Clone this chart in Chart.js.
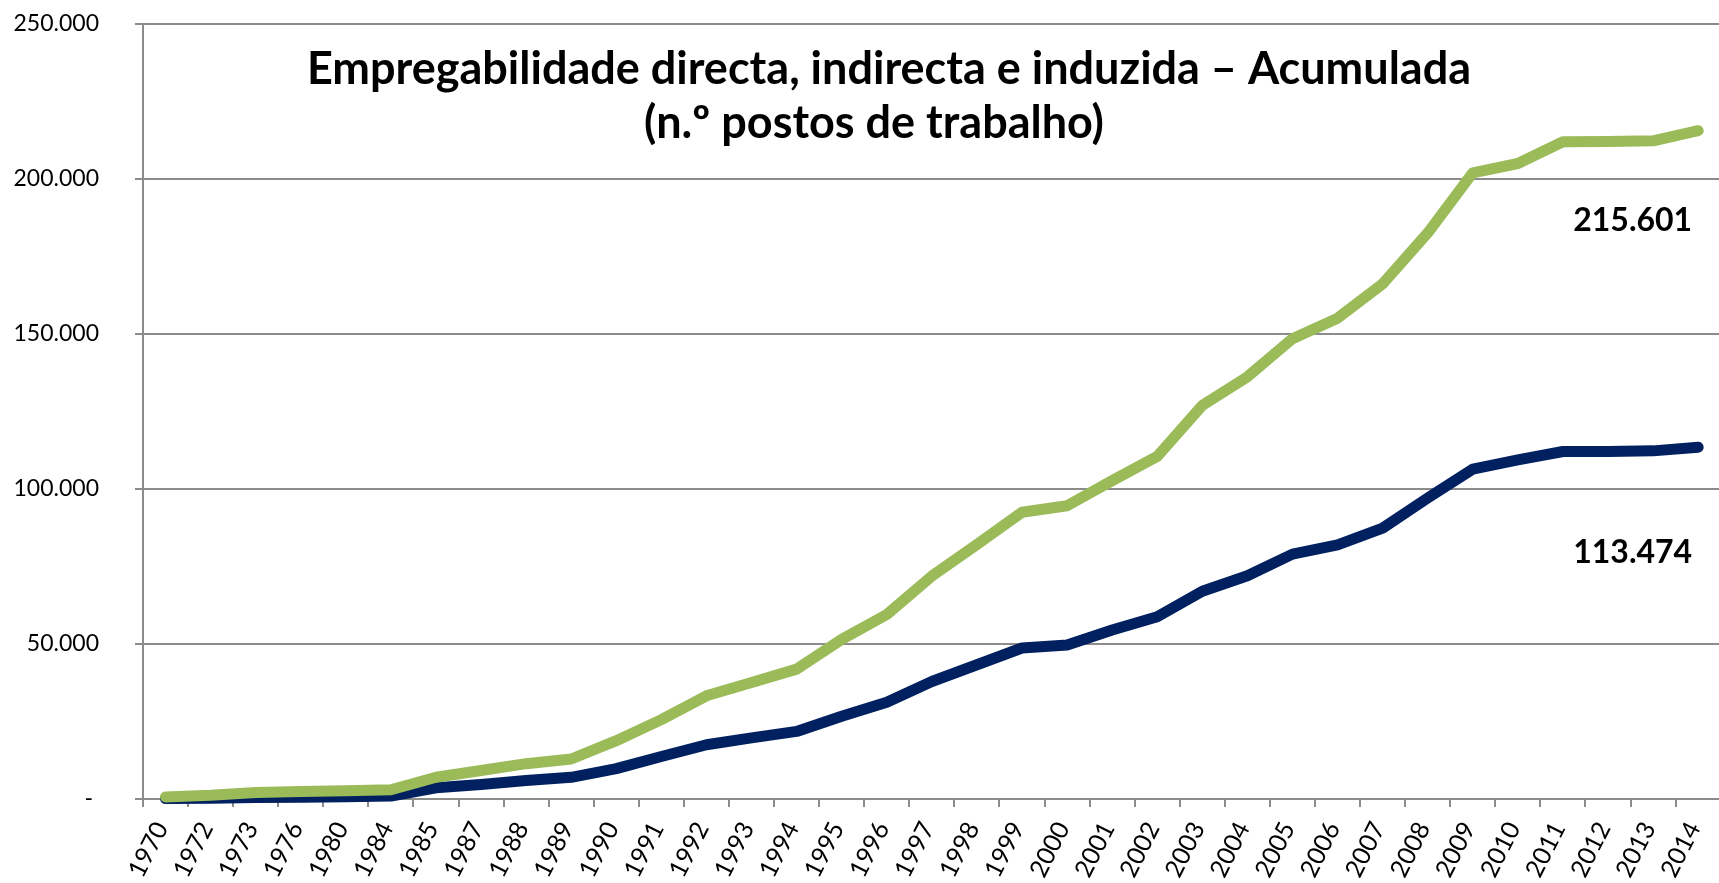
<!DOCTYPE html>
<html>
<head>
<meta charset="utf-8">
<title>Empregabilidade acumulada</title>
<script src="https://cdn.jsdelivr.net/npm/chart.js@4.4.1/dist/chart.umd.min.js"></script>
<style>
  html, body { margin: 0; padding: 0; background: #fff; overflow: hidden; }
  #wrap { width: 1735px; height: 883px; }
</style>
</head>
<body>
<div id="wrap"><canvas id="chart" width="1735" height="883"></canvas></div>
<script>
// ─── DATA ─────────────────────────────────────────────────────────────────────
const YEARS = [
  '1970','1972','1973','1976','1980','1984','1985','1987','1988','1989',
  '1990','1991','1992','1993','1994','1995','1996','1997','1998','1999',
  '2000','2001','2002','2003','2004','2005','2006','2007','2008','2009',
  '2010','2011','2012','2013','2014'
];
// directa + indirecta + induzida (green)
const JOBS_TOTAL = [
  650, 1200, 2100, 2450, 2700, 3000, 7000, 9200, 11400, 12900,
  18800, 25600, 33300, 37600, 41900, 51500, 59500, 71900, 82100, 92500,
  94600, 102700, 110500, 127000, 136200, 148500, 155100, 166200, 182600, 202000,
  205000, 212000, 212100, 212300, 215601
];
// directa + indirecta (navy)
const JOBS_DIRECT = [
  150, 250, 450, 600, 750, 950, 3600, 4700, 6000, 7000,
  9800, 13700, 17500, 19700, 21800, 26700, 31200, 37900, 43300, 48700,
  49700, 54500, 58800, 67000, 72000, 79000, 82000, 87400, 97100, 106400,
  109400, 112100, 112100, 112300, 113474
];
const Y_MIN = 0, Y_MAX = 250000, Y_STEP = 50000;
const TITLE_LINES = [
  'Empregabilidade directa, indirecta e induzida – Acumulada',
  '(n.º postos de trabalho)'
];

const GREEN = '#9BBB59';
const NAVY  = '#002060';
const GRID  = '#8c8c8c';

// 250000 -> "250.000"
function fmt(v) {
  return String(Math.round(v)).replace(/\B(?=(\d{3})+(?!\d))/g, '.');
}

// title + end-of-line value labels, drawn on top of the plot
const END_LABEL_DY = [90, 105]; // px below the last point, per dataset
const overlayText = {
  id: 'overlayText',
  afterDatasetsDraw(chart) {
    const { ctx } = chart;
    ctx.save();
    ctx.fillStyle = '#000';
    ctx.textAlign = 'center';
    ctx.textBaseline = 'alphabetic';
    ctx.font = 'bold 45px Lato';
    ctx.fillText(TITLE_LINES[0], 889, 84);
    ctx.fillText(TITLE_LINES[1], 874, 138);

    ctx.font = 'bold 32px Lato';
    ctx.textAlign = 'right';
    ctx.textBaseline = 'middle';
    chart.data.datasets.forEach((ds, i) => {
      const pts = chart.getDatasetMeta(i).data;
      const last = pts[pts.length - 1];
      ctx.fillText(fmt(ds.data[ds.data.length - 1]), last.x - 6, last.y + END_LABEL_DY[i]);
    });
    ctx.restore();
  }
};

Chart.defaults.font.family = 'Lato';
Chart.defaults.color = '#000';

new Chart(document.getElementById('chart'), {
  type: 'line',
  data: {
    labels: YEARS,
    datasets: [
      {
        label: 'Directa, indirecta e induzida',
        data: JOBS_TOTAL,
        borderColor: GREEN,
        backgroundColor: GREEN,
        borderWidth: 11,
        borderCapStyle: 'round',
        borderJoinStyle: 'round',
        pointRadius: 0,
        tension: 0,
        clip: false
      },
      {
        label: 'Directa e indirecta',
        data: JOBS_DIRECT,
        borderColor: NAVY,
        backgroundColor: NAVY,
        borderWidth: 11,
        borderCapStyle: 'round',
        borderJoinStyle: 'round',
        pointRadius: 0,
        tension: 0,
        clip: false
      }
    ]
  },
  options: {
    responsive: false,
    animation: false,
    layout: { padding: { top: 24, right: 6, left: 0, bottom: 0 } },
    plugins: {
      legend: { display: false },
      title: { display: false },
      tooltip: { enabled: false }
    },
    scales: {
      x: {
        offset: true,
        grid: { offset: true, drawOnChartArea: false, drawTicks: true, tickLength: 8, color: GRID, lineWidth: 2 },
        border: { display: true, color: GRID, width: 2 },
        ticks: {
          autoSkip: false,
          minRotation: 63,
          maxRotation: 63,
          padding: 10,
          labelOffset: -4,
          color: '#000',
          font: { size: 25 }
        },
        afterFit: s => { s.height = 84; }
      },
      y: {
        min: Y_MIN,
        max: Y_MAX,
        grid: { color: GRID, lineWidth: 2, tickLength: 8 },
        border: { display: true, color: GRID, width: 2 },
        ticks: {
          stepSize: Y_STEP,
          padding: 36,
          color: '#000',
          font: { size: 23 },
          callback: v => v === 0 ? '- ' : fmt(v)
        },
        // fixed axis width; drop the extra top/bottom room the label padding would add
        afterFit: s => { s.width = 143; s.paddingTop = 0; s.paddingBottom = 0; }
      }
    }
  },
  plugins: [overlayText]
});
</script>
</body>
</html>
